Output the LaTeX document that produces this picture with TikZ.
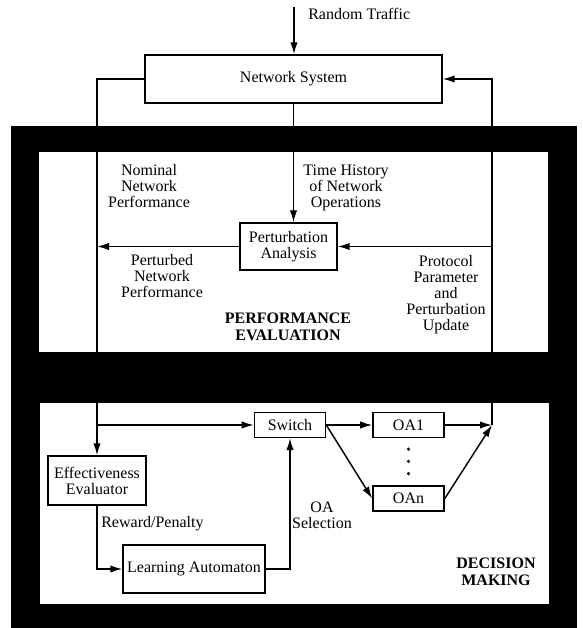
\documentclass[tikz,border=0pt]{standalone}
\usepackage{fontspec}
\setmainfont{Liberation Serif}
\usetikzlibrary{arrows.meta,positioning,calc}

\begin{document}
\begin{tikzpicture}[
  x=0.625pt, y=-0.625pt,
  every node/.style={font=\fontsize{10}{10}\selectfont},
  box/.style={draw, line width=0.9pt, minimum height=30pt, align=center, inner sep=2pt},
  oabox/.style={draw, line width=0.9pt, minimum width=44.5pt, minimum height=15.6pt, inner sep=1pt},
  lbl/.style={align=center, inner sep=0pt},
  hd/.style={align=center, inner sep=0pt, font=\fontsize{10}{10.5}\selectfont\bfseries},
  wire/.style={line width=0.9pt},
  arr/.style={wire, -{Latex[length=7.5pt,width=4.6pt]}}
]
\fill[white] (0,0) rectangle (583,628);
\fill[black] (11,126) rectangle (577,628);
\fill[white] (39,152) rectangle (548,352);
\fill[white] (40,403) rectangle (549,604);

\node[box, minimum width=185.6pt] (ns) at (293.5,79) {Network System};
\node[lbl, anchor=west] (rt) at (308,14) {Random Traffic};
\coordinate (in) at (294,7);
\node[box, minimum width=60.6pt, minimum height=29.4pt] (pa) at (288.5,246.5) {Perturbation\\Analysis};
\node[lbl] (nom) at (149,186) {Nominal\\Network\\Performance};
\node[lbl] (th) at (346,188) {Time History\\of Network\\Operations};
\node[lbl] (pnp) at (162,276) {Perturbed\\Network\\Performance};
\node[lbl] (ppu) at (446,295) {Protocol\\Parameter\\and\\Perturbation\\Update};
\node[hd] (pe) at (288,327) {PERFORMANCE\\EVALUATION};

\node[oabox] (sw) at (290,425) {Switch};
\node[oabox] (oa1) at (408.5,425) {OA1};
\node[oabox] (oan) at (408.5,498.5) {OAn};
\coordinate (jr) at (492,425);
\node[box, minimum width=61.25pt, minimum height=30.6pt] (ee) at (97,480.5) {Effectiveness\\Evaluator};
\node[box, minimum width=88.75pt] (la) at (194,569) {Learning Automaton};
\node[lbl, anchor=west] (rp) at (101,524) {Reward/Penalty};
\node[lbl] (oas) at (322,515) {OA\\Selection};
\node[hd] (dm) at (496,572) {DECISION\\MAKING};

\draw[arr] (in) -- (in |- ns.north);
\draw[arr] (ns.south) -- (ns.south |- pa.north);
\draw[arr] (ns.west) -| (ee.north);
\draw[arr] (jr) |- (ns.east);
\draw[arr] (pa.west) -- (pa.west -| ee.north);
\draw[arr] (pa.east -| jr) -- (pa.east);
\draw[arr] (ee.north |- sw.west) -- (sw.west);
\draw[arr] (ee.south) |- (la.west);
\draw[arr] (la.east) -| (sw.south);
\foreach \t in {oa1,oan}
  \draw[arr] (sw.east) -- (\t.west);
\foreach \s in {oa1,oan}
  \draw[arr] (\s.east) -- (jr);
\foreach \k in {0.23,0.49,0.75}
  \fill ($(oa1.south)!\k!(oan.north)$) circle[radius=1.1pt];
\end{tikzpicture}
\end{document}
